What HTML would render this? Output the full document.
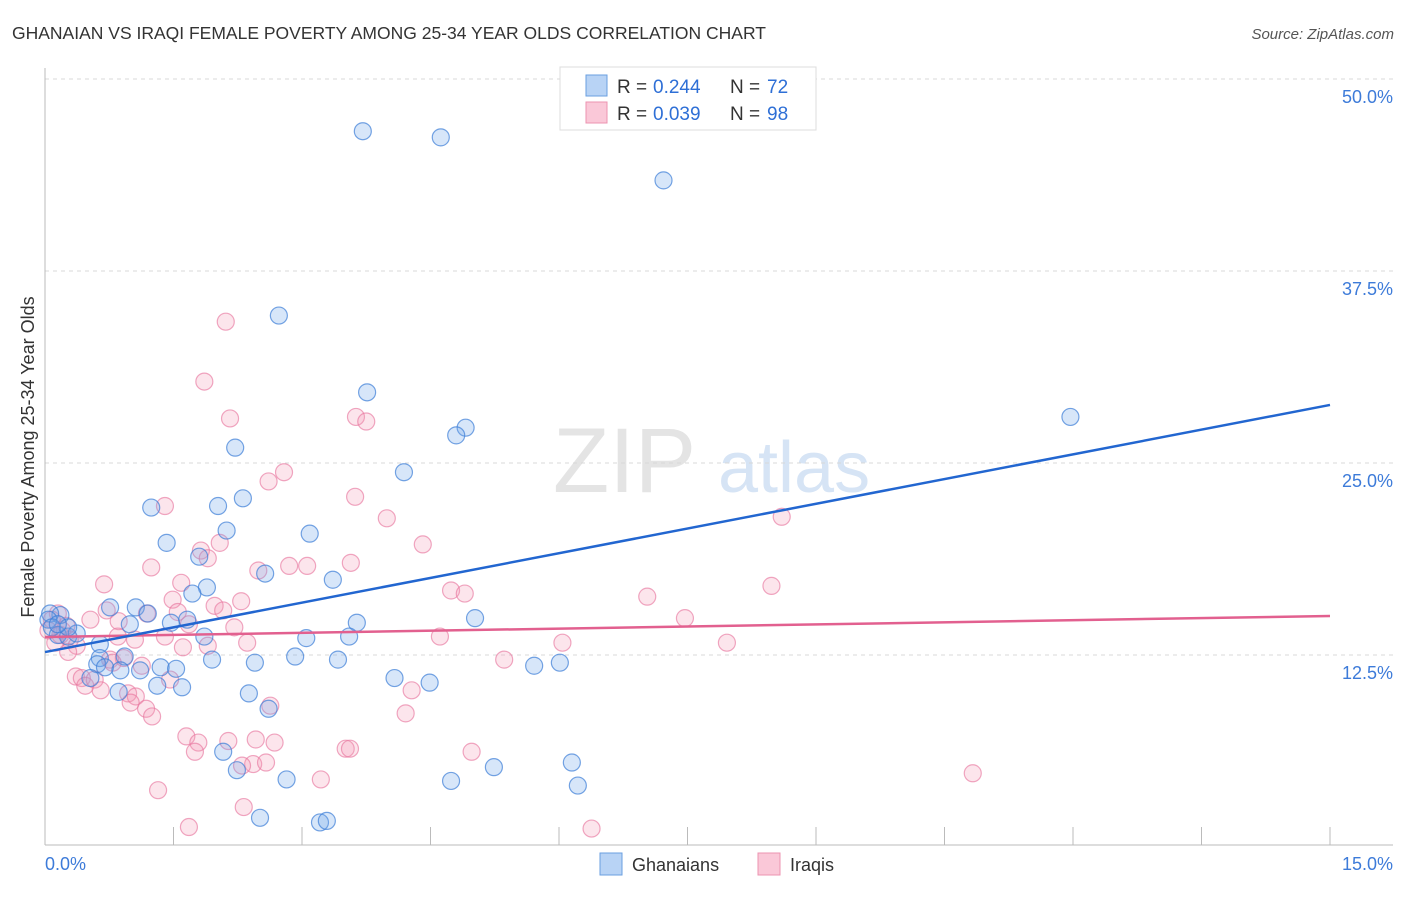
<!DOCTYPE html>
<html><head><meta charset="utf-8"><style>
body{margin:0;background:#fff;font-family:"Liberation Sans",sans-serif;}
svg text{font-family:"Liberation Sans",sans-serif;}
</style></head><body>
<svg id="chart" width="1406" height="892" xmlns="http://www.w3.org/2000/svg">
<text x="12" y="39" font-size="17.5" fill="#333">GHANAIAN VS IRAQI FEMALE POVERTY AMONG 25-34 YEAR OLDS CORRELATION CHART</text>
<text x="1394" y="39" font-size="15" fill="#555" text-anchor="end" font-style="italic">Source: ZipAtlas.com</text>
<g>
<text x="553" y="492" font-size="92" fill="#e4e4e4" font-family="Liberation Serif, serif">ZIP</text>
<text x="718" y="492" font-size="72" fill="#d6e4f5">atlas</text>
</g>
<g id="grid"></g>
<g id="axes"></g>
<g id="pts"></g>
<g id="lines"></g>
<text transform="translate(34,457) rotate(-90)" font-size="18" fill="#333" text-anchor="middle">Female Poverty Among 25-34 Year Olds</text>
<g>
<rect x="560" y="67" width="256" height="63" fill="#fff" stroke="#ddd"/>
<rect x="586" y="75" width="21" height="21" fill="#b8d3f5" stroke="#6a9fe0"/>
<text x="617" y="93" font-size="19" fill="#333">R = </text>
<text x="653" y="93" font-size="19" fill="#2e6fd6">0.244</text>
<text x="730" y="93" font-size="19" fill="#333">N = </text>
<text x="767" y="93" font-size="19" fill="#2e6fd6">72</text>
<rect x="586" y="102" width="21" height="21" fill="#fac8d8" stroke="#ec93b0"/>
<text x="617" y="120" font-size="19" fill="#333">R = </text>
<text x="653" y="120" font-size="19" fill="#2e6fd6">0.039</text>
<text x="730" y="120" font-size="19" fill="#333">N = </text>
<text x="767" y="120" font-size="19" fill="#2e6fd6">98</text>
</g>
<g>
<rect x="600" y="853" width="22" height="22" fill="#b8d3f5" stroke="#6a9fe0"/>
<text x="632" y="871" font-size="18" fill="#333">Ghanaians</text>
<rect x="758" y="853" width="22" height="22" fill="#fac8d8" stroke="#ec93b0"/>
<text x="790" y="871" font-size="18" fill="#333">Iraqis</text>
</g>
</svg>
<script>
const yTicks=[12.5,25,37.5,50];
const yTickLabels=["12.5%","25.0%","37.5%","50.0%"];
const xTicks=[0,1.5,3,4.5,6,7.5,9,10.5,12,13.5,15];
const xEndLabels=["0.0%","15.0%"];
const ghanaX=[3.71,4.62,7.22,2.73,11.97,3.76,4.91,4.80,2.22,4.19,2.31,1.24,2.02,2.12,3.09,1.42,1.80,2.57,3.36,1.89,1.72,0.76,1.06,1.20,5.02,3.64,1.66,1.47,0.99,0.18,0.06,0.04,0.08,0.15,0.27,0.37,0.64,0.64,0.61,3.05,3.55,1.86,1.95,2.45,2.92,3.42,5.71,6.01,0.93,1.11,1.35,1.53,0.70,0.88,4.08,4.49,1.60,1.31,0.86,0.53,2.38,2.61,2.08,2.24,2.82,4.74,5.24,6.15,6.22,2.51,3.21,3.29,0.27,0.15];
const ghanaY=[46.6,46.2,43.4,34.6,28.0,29.6,27.3,26.8,26.0,24.4,22.7,22.1,22.2,20.6,20.4,19.8,18.9,17.8,17.4,16.9,16.5,15.6,15.6,15.2,14.9,14.6,14.8,14.6,14.5,15.1,15.2,14.8,14.3,13.8,13.7,13.9,13.2,12.3,11.9,13.6,13.7,13.7,12.2,12.0,12.4,12.2,11.8,12.0,12.4,11.5,11.7,11.6,11.7,11.5,11.0,10.7,10.4,10.5,10.1,11.0,10.0,9.0,6.2,5.0,4.4,4.3,5.2,5.5,4.0,1.9,1.6,1.7,14.3,14.5];
const iraqX=[2.11,1.86,2.16,3.63,3.75,2.79,2.61,3.62,1.40,3.99,8.60,4.41,2.04,1.82,1.90,1.24,2.85,3.06,2.49,0.69,1.59,3.57,4.74,4.90,7.03,8.48,2.29,1.49,1.98,2.08,1.55,0.72,1.19,0.53,0.86,0.15,0.08,0.20,0.29,0.37,0.85,1.05,1.40,1.61,1.68,2.21,1.90,2.36,4.61,6.04,7.47,7.96,0.27,0.76,0.92,1.13,0.79,5.36,0.36,0.43,0.47,0.58,0.65,0.97,1.06,1.00,1.18,1.25,1.46,2.63,4.28,4.21,1.65,1.79,1.75,2.14,2.46,2.68,2.43,2.58,2.30,3.51,3.56,4.98,3.22,1.32,2.32,1.68,6.38,10.83,0.18,0.12,0.04,0.25];
const iraqY=[34.2,30.3,27.9,28.0,27.7,24.4,23.8,22.8,22.2,21.4,21.5,19.7,19.8,19.3,18.8,18.2,18.3,18.3,18.0,17.1,17.2,18.5,16.7,16.5,16.3,17.0,16.0,16.1,15.7,15.4,15.3,15.4,15.2,14.8,14.7,15.2,14.8,14.1,13.5,13.1,13.7,13.5,13.7,13.0,14.5,14.3,13.1,13.3,13.7,13.3,14.9,13.3,12.7,12.2,12.3,11.8,12.0,12.2,11.1,11.0,10.5,10.9,10.2,10.0,9.8,9.4,9.0,8.5,10.9,9.2,10.2,8.7,7.2,6.8,6.2,6.9,7.0,6.8,5.4,5.5,5.3,6.4,6.4,6.2,4.4,3.7,2.6,1.3,1.2,4.8,13.8,13.3,14.1,14.4];
const ghanaTrend=[12.69,28.78];
const iraqTrend=[13.67,15.04];

const NS="http://www.w3.org/2000/svg";
const X0=45,X1=1330,YB=847,PXPER=192/12.5;
function sx(v){return X0+(v/15)*(X1-X0);}
function sy(v){return YB-v*PXPER;}
function mk(tag,attrs,parent){const e=document.createElementNS(NS,tag);for(const k in attrs)e.setAttribute(k,attrs[k]);parent.appendChild(e);return e;}
const grid=document.getElementById('grid'),axes=document.getElementById('axes'),pts=document.getElementById('pts'),lines=document.getElementById('lines');
yTicks.forEach((t,i)=>{
  const l=mk('line',{x1:45,x2:1393,y1:sy(t),y2:sy(t),stroke:'#d8d8d8','stroke-dasharray':'4,4'},grid);
  
  
  const tx=mk('text',{x:1393,y:sy(t)+24,'font-size':18,fill:'#3d7bd9','text-anchor':'end'},grid);
  tx.textContent=yTickLabels[i];
  
  
});
const la=mk('line',{x1:45,x2:45,y1:68,y2:845,stroke:'#bbb'},axes);


const ba=mk('line',{x1:45,x2:1393,y1:845,y2:845,stroke:'#bbb'},axes);


xTicks.forEach(t=>{
  const l=mk('line',{x1:sx(t),x2:sx(t),y1:827,y2:845,stroke:'#bbb'},axes);
  
  
});
const xl0=mk('text',{x:45,y:870,'font-size':18,fill:'#3d7bd9'},axes);xl0.textContent=xEndLabels[0];


const xl1=mk('text',{x:1393,y:870,'font-size':18,fill:'#3d7bd9','text-anchor':'end'},axes);xl1.textContent=xEndLabels[1];


function drawPts(xs,ys,fill,stroke,name){
  xs.forEach((x,i)=>{
    const c=mk('circle',{cx:sx(x),cy:sy(ys[i]),r:8.5,fill:fill,stroke:stroke,'stroke-width':1.2},pts);
    
    
  });
}
drawPts(iraqX,iraqY,'rgba(245,150,180,0.25)','rgba(232,120,160,0.65)','iraqi-point');
drawPts(ghanaX,ghanaY,'rgba(110,165,235,0.28)','rgba(60,125,215,0.7)','ghanaian-point');
const lp=mk('line',{x1:sx(0),y1:sy(iraqTrend[0]),x2:sx(15),y2:sy(iraqTrend[1]),stroke:'#e2608f','stroke-width':2.5},lines);


const lb=mk('line',{x1:sx(0),y1:sy(ghanaTrend[0]),x2:sx(15),y2:sy(ghanaTrend[1]),stroke:'#2266d0','stroke-width':2.5},lines);


</script>
</body></html>
